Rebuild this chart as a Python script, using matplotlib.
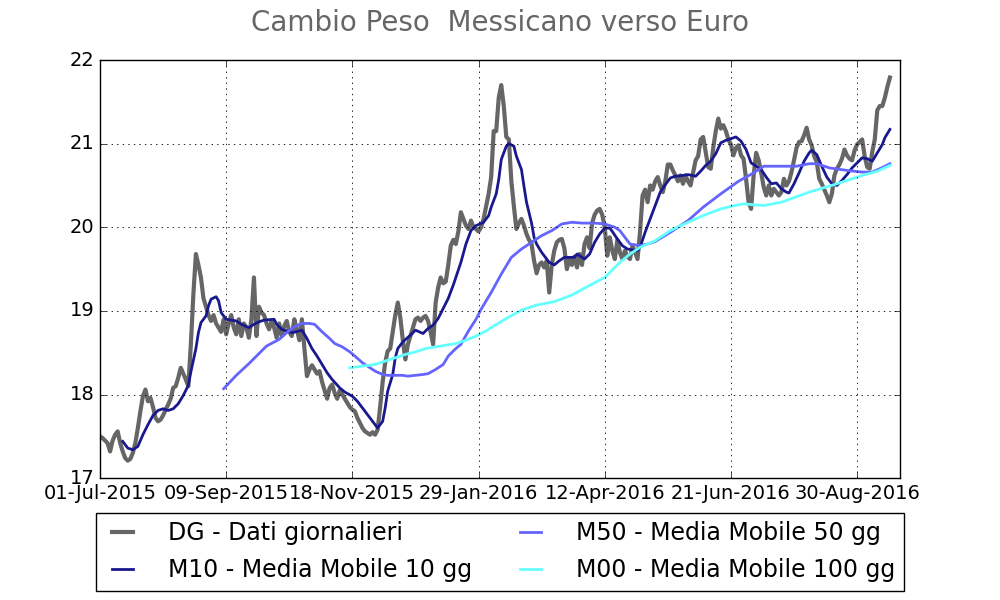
import matplotlib
matplotlib.use("Agg")
import matplotlib.pyplot as plt

TITLE = "Cambio Peso  Messicano verso Euro"
TICK_POS = [0, 50, 100, 150, 200, 250, 300]
TICK_LABELS = ["01-Jul-2015", "09-Sep-2015", "18-Nov-2015", "29-Jan-2016",
               "12-Apr-2016", "21-Jun-2016", "30-Aug-2016"]
Y_TICKS = [17, 18, 19, 20, 21, 22]

# DG - daily values (one per trading day, index 0..313)
DG = [
    17.50, 17.48, 17.45, 17.42, 17.32, 17.45, 17.52, 17.56, 17.42, 17.32,
    17.24, 17.21, 17.23, 17.30, 17.42, 17.60, 17.80, 17.98, 18.06, 17.92,
    17.96, 17.85, 17.72, 17.68, 17.70, 17.75, 17.82, 17.88, 17.95, 18.08,
    18.10, 18.20, 18.32, 18.25, 18.18, 18.10, 18.60, 19.20, 19.68, 19.55,
    19.40, 19.15, 19.05, 18.95, 18.88, 18.95, 18.85, 18.80, 18.75, 18.90,
    18.72, 18.85, 18.95, 18.80, 18.72, 18.90, 18.70, 18.85, 18.80, 18.68,
    18.90, 19.40, 18.70, 19.05, 18.98, 18.95, 18.85, 18.78, 18.88, 18.80,
    18.68, 18.85, 18.70, 18.82, 18.88, 18.75, 18.70, 18.90, 18.78, 18.65,
    18.90, 18.55, 18.22, 18.30, 18.35, 18.30, 18.25, 18.28, 18.15, 18.05,
    17.95, 18.08, 18.12, 18.02, 17.95, 18.05, 18.00, 17.95, 17.90, 17.85,
    17.82, 17.80, 17.72, 17.66, 17.60, 17.56, 17.54, 17.52, 17.55, 17.52,
    17.58, 17.85, 18.15, 18.38, 18.52, 18.55, 18.75, 18.95, 19.10, 18.92,
    18.65, 18.42, 18.60, 18.70, 18.80, 18.90, 18.92, 18.88, 18.92, 18.94,
    18.88, 18.75, 18.60, 19.10, 19.28, 19.40, 19.33, 19.35, 19.55, 19.78,
    19.85, 19.80, 19.95, 20.18, 20.10, 20.02, 19.98, 20.08, 20.00, 19.98,
    19.95, 20.00, 20.10, 20.25, 20.40, 20.60, 21.15, 21.15, 21.55, 21.70,
    21.45, 21.08, 21.05, 20.55, 20.25, 19.98, 20.05, 20.10, 20.02, 19.92,
    19.85, 19.80, 19.60, 19.45, 19.55, 19.58, 19.52, 19.60, 19.22, 19.55,
    19.72, 19.82, 19.85, 19.86, 19.75, 19.50, 19.62, 19.55, 19.65, 19.52,
    19.68, 19.55, 19.80, 19.88, 19.75, 20.05, 20.15, 20.20, 20.22, 20.15,
    20.00, 19.66, 19.88, 19.72, 19.62, 19.85, 19.70, 19.62, 19.72, 19.65,
    19.62, 19.78, 19.70, 19.62, 19.95, 20.38, 20.45, 20.30, 20.50, 20.45,
    20.55, 20.60, 20.50, 20.42, 20.55, 20.75, 20.75, 20.68, 20.62, 20.55,
    20.62, 20.52, 20.62, 20.55, 20.50, 20.65, 20.80, 20.85, 21.05, 21.08,
    20.90, 20.72, 20.70, 20.95, 21.15, 21.30, 21.18, 21.22, 21.15, 21.05,
    20.99, 20.86, 20.95, 20.98, 20.86, 20.82, 20.58, 20.30, 20.22, 20.62,
    20.89, 20.80, 20.65, 20.48, 20.38, 20.50, 20.38, 20.46, 20.42, 20.38,
    20.42, 20.58, 20.50, 20.55, 20.66, 20.80, 20.95, 21.02, 21.03, 21.10,
    21.19, 21.05, 20.98, 20.85, 20.78, 20.58, 20.52, 20.45, 20.38, 20.30,
    20.40, 20.62, 20.70, 20.75, 20.82, 20.93, 20.86, 20.82, 20.80, 20.92,
    20.99, 21.02, 21.05, 20.85, 20.72, 20.70, 20.90, 21.05, 21.40, 21.45,
    21.45, 21.55, 21.68, 21.79,
]

# M10 - 10-day moving average
M10_IDX = [9, 11, 13, 15, 17, 19, 21, 23, 25, 27, 29, 31, 33, 35, 36, 38, 39, 40,
           42, 43, 44, 46, 47, 48, 50, 54, 56, 59, 61, 63, 65, 69, 70, 72, 74, 76,
           79, 80, 82, 84, 86, 88, 90, 92, 95, 97, 100, 102, 104, 106, 108, 110,
           112, 113, 114, 116, 117, 118, 120, 123, 125, 128, 130, 132, 134, 136,
           138, 140, 142, 143, 145, 147, 149, 152, 154, 155, 157, 158, 159, 161,
           162, 164, 165, 167, 168, 169, 171, 172, 173, 175, 178, 180, 182, 184,
           188, 189, 192, 194, 196, 198, 200, 202, 203, 205, 207, 209, 213, 214,
           216, 218, 220, 222, 224, 226, 228, 231, 233, 236, 238, 240, 242, 244,
           246, 248, 252, 254, 256, 258, 260, 262, 264, 266, 268, 270, 272, 273,
           275, 277, 279, 281, 282, 284, 286, 288, 290, 292, 294, 296, 298, 300,
           302, 304, 306, 308, 310, 311, 313]
M10 = [17.44, 17.36, 17.34, 17.38, 17.52, 17.64, 17.75, 17.81, 17.83, 17.81, 17.83,
       17.89, 17.99, 18.11, 18.27, 18.55, 18.74, 18.86, 18.94, 19.06, 19.14, 19.17,
       19.12, 18.98, 18.90, 18.88, 18.84, 18.80, 18.84, 18.87, 18.89, 18.90, 18.84,
       18.78, 18.76, 18.74, 18.76, 18.77, 18.67, 18.55, 18.46, 18.36, 18.26, 18.18,
       18.08, 18.03, 17.98, 17.92, 17.84, 17.76, 17.68, 17.60, 17.68, 17.84, 18.04,
       18.24, 18.44, 18.55, 18.63, 18.71, 18.77, 18.73, 18.79, 18.83, 18.91, 19.03,
       19.15, 19.31, 19.49, 19.58, 19.80, 19.96, 20.02, 20.06, 20.14, 20.24, 20.40,
       20.57, 20.81, 20.97, 21.00, 20.97, 20.85, 20.69, 20.49, 20.30, 20.05, 19.88,
       19.80, 19.70, 19.58, 19.55, 19.60, 19.64, 19.64, 19.68, 19.62, 19.68, 19.82,
       19.92, 19.99, 19.99, 19.95, 19.86, 19.78, 19.74, 19.72, 19.76, 19.94, 20.10,
       20.26, 20.42, 20.51, 20.59, 20.61, 20.62, 20.63, 20.61, 20.67, 20.74, 20.79,
       20.88, 21.01, 21.04, 21.08, 21.03, 20.93, 20.77, 20.73, 20.69, 20.60, 20.52,
       20.53, 20.46, 20.42, 20.41, 20.52, 20.65, 20.79, 20.89, 20.92, 20.87, 20.73,
       20.60, 20.52, 20.50, 20.56, 20.63, 20.71, 20.77, 20.83, 20.82, 20.79, 20.89,
       20.99, 21.07, 21.17]

# M50 - 50-day moving average
M50_IDX = [49, 54, 59, 63, 66, 71, 74, 77, 80, 83, 85, 88, 91, 93, 96, 99, 101, 104,
           107, 109, 112, 114, 120, 122, 128, 130, 133, 136, 138, 141, 143, 146, 149,
           151, 155, 159, 163, 167, 171, 175, 179, 183, 187, 191, 196, 200, 204, 206,
           208, 210, 214, 217, 220, 226, 233, 239, 246, 253, 259, 263, 270, 276, 281,
           284, 289, 296, 302, 306, 309, 313]
M50 = [18.07, 18.23, 18.37, 18.49, 18.58, 18.66, 18.74, 18.81, 18.85, 18.85, 18.84,
       18.75, 18.67, 18.61, 18.57, 18.51, 18.46, 18.38, 18.32, 18.28, 18.24, 18.23,
       18.23, 18.22, 18.24, 18.25, 18.30, 18.36, 18.46, 18.55, 18.60, 18.76, 18.90,
       19.02, 19.22, 19.44, 19.64, 19.74, 19.82, 19.90, 19.96, 20.04, 20.06, 20.05,
       20.05, 20.04, 20.00, 19.96, 19.88, 19.80, 19.78, 19.80, 19.83, 19.94, 20.08,
       20.24, 20.40, 20.55, 20.65, 20.73, 20.73, 20.73, 20.76, 20.76, 20.71, 20.68,
       20.66, 20.66, 20.70, 20.76]

# M00 - 100-day moving average
M100_IDX = [99, 104, 109, 113, 117, 121, 125, 129, 133, 137, 141, 145, 149, 153, 156,
            161, 167, 173, 180, 187, 193, 200, 206, 210, 214, 220, 226, 233, 239, 246,
            250, 255, 259, 263, 270, 281, 292, 302, 308, 313]
M100 = [18.32, 18.34, 18.36, 18.40, 18.44, 18.48, 18.51, 18.55, 18.57, 18.59, 18.61,
        18.65, 18.70, 18.76, 18.82, 18.91, 19.01, 19.07, 19.11, 19.19, 19.29, 19.40,
        19.58, 19.68, 19.76, 19.84, 19.96, 20.06, 20.14, 20.22, 20.25, 20.28, 20.27,
        20.26, 20.30, 20.42, 20.52, 20.62, 20.67, 20.74]

LABELS = ["DG - Dati giornalieri", "M10 - Media Mobile 10 gg",
          "M50 - Media Mobile 50 gg", "M00 - Media Mobile 100 gg"]

plt.style.use("classic")
fig = plt.figure(figsize=(10, 6), dpi=100, facecolor="white")
ax = fig.add_axes([0.1, 0.203, 0.8, 0.697])
ax.set_facecolor("white")

h1, = ax.plot(range(len(DG)), DG, color="#666666", lw=3, label=LABELS[0])
h2, = ax.plot(M10_IDX, M10, color="#19198f", lw=2.0, label=LABELS[1])
h3, = ax.plot(M50_IDX, M50, color="#6464ff", lw=2.0, label=LABELS[2])
h4, = ax.plot(M100_IDX, M100, color="#66ffff", lw=2.0, label=LABELS[3])

ax.set_xlim(0, 317)
ax.set_ylim(17, 22)
ax.set_yticks(Y_TICKS)
ax.set_xticks(TICK_POS)
ax.set_xticklabels(TICK_LABELS)
ax.tick_params(labelsize=14)
ax.grid(True, color="black", linestyle=":", linewidth=0.6)

ax.set_title(TITLE, fontsize=20, color="#666666", pad=21)

leg = ax.legend(handles=[h1, h2, h3, h4], loc="upper center",
                bbox_to_anchor=(0.5, -0.055), ncol=2, fontsize=17,
                handlelength=1.5, handletextpad=1.2, columnspacing=1.7,
                borderpad=0.35, labelspacing=0.55, frameon=True, fancybox=False)
leg.get_frame().set_edgecolor("black")
leg.get_frame().set_linewidth(1.0)

fig.savefig("out.png", dpi=100, facecolor="white")
